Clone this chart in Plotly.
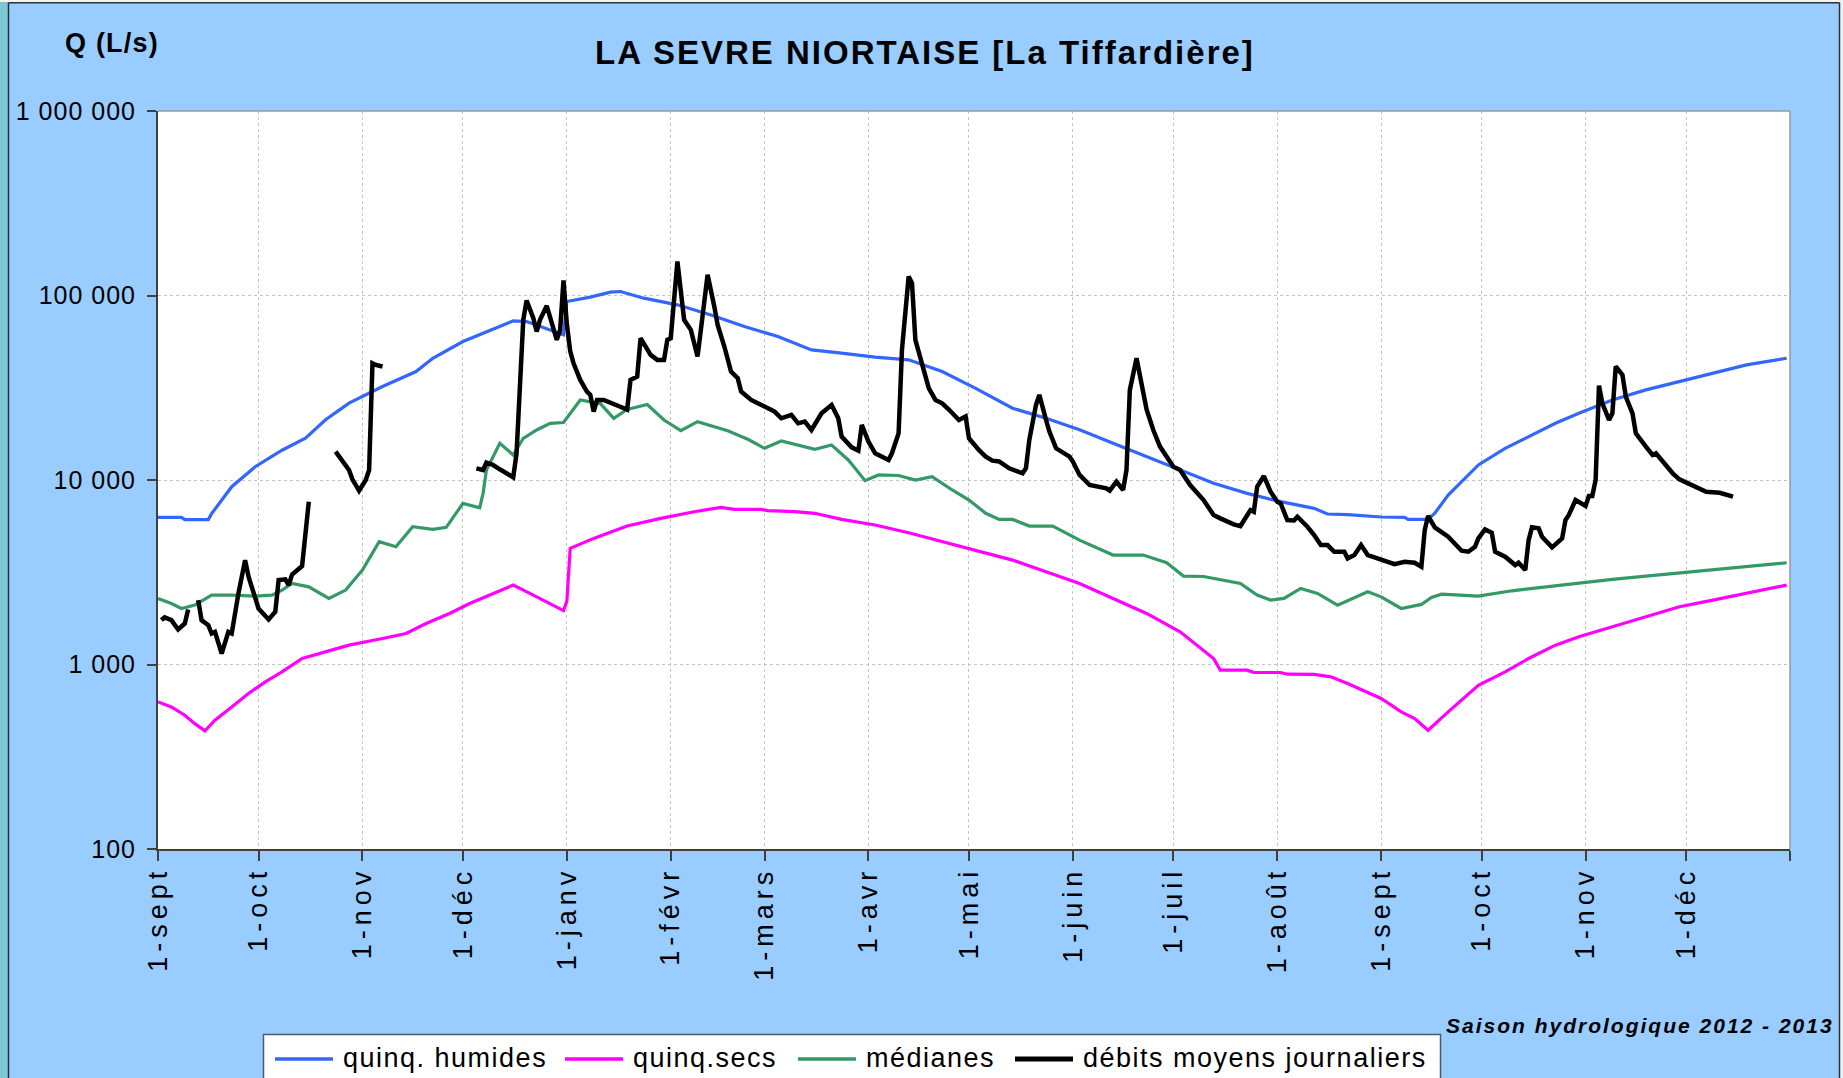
import pandas as pd
import plotly.graph_objects as go

# ---------------- data (day offsets from 1 Sept 2012, flow in L/s) ----------------
START = "2012-09-01"

HUM_DAYS = [0, 7, 8, 15, 16, 22, 29, 37, 44, 50, 57, 67, 77, 82, 91, 97, 106, 110, 121, 122,
            129, 135, 138, 145, 155, 165, 175, 185, 195, 204, 214, 224, 234, 244, 255, 265,
            275, 285, 295, 305, 315, 325, 335, 345, 349, 355, 365, 372, 373, 379, 381, 385,
            390, 394, 402, 409, 417, 424, 434, 444, 454, 464, 474, 486]
HUM_VALS = [6270, 6270, 6100, 6100, 6570, 9200, 11800, 14500, 16850, 21200, 26100, 32100, 38700,
            45700, 56300, 62500, 72900, 72200, 61200, 92800, 98000, 104300, 105100, 96700, 89000,
            78500, 67900, 59900, 50700, 48700, 46300, 44800, 38700, 31400, 24500, 21600, 18700,
            15800, 13400, 11300, 9590, 8465, 7630, 7020, 6540, 6490, 6300, 6270, 6115, 6115, 6600,
            8290, 10210, 12060, 14850, 17180, 20290, 22990, 27160, 30780, 34170, 37910, 42060, 45710]

SEC_DAYS = [0, 4, 8, 11, 14, 17, 22, 27, 32, 37, 43, 50, 57, 67, 74, 80, 87, 93, 100, 106, 112,
            117, 121, 122, 123, 130, 140, 150, 160, 168, 172, 180, 182, 190, 196, 204, 214, 224,
            234, 244, 255, 265, 275, 285, 295, 305, 310, 315, 317, 325, 327, 335, 337, 345, 350,
            355, 365, 371, 375, 379, 385, 390, 394, 402, 409, 417, 424, 434, 444, 454, 464, 474, 486]
SEC_VALS = [627, 589, 531, 478, 437, 499, 589, 696, 805, 912, 1078, 1171, 1273, 1383, 1473, 1669,
            1891, 2142, 2428, 2694, 2377, 2142, 1960, 2200, 4259, 4826, 5628, 6195, 6733, 7107,
            6933, 6933, 6820, 6733, 6600, 6115, 5700, 5180, 4629, 4172, 3681, 3183, 2750, 2280,
            1891, 1503, 1273, 1078, 932, 932, 905, 905, 886, 884, 857, 789, 654, 554, 509, 440,
            554, 668, 772, 912, 1078, 1273, 1413, 1601, 1814, 2056, 2234, 2428, 2694]

MED_DAYS = [0, 4, 7, 9, 11, 16, 22, 29, 34, 37, 40, 45, 51, 56, 61, 66, 71, 76, 82, 86, 91, 96, 97,
            98, 102, 106, 109, 113, 117, 121, 123, 126, 132, 136, 140, 146, 151, 156, 161, 170,
            176, 181, 186, 196, 201, 206, 211, 215, 221, 226, 231, 237, 242, 245, 247, 251, 255,
            260, 267, 275, 285, 294, 301, 306, 312, 323, 328, 332, 336, 341, 346, 352, 356, 361,
            365, 371, 377, 380, 383, 389, 394, 404, 414, 424, 434, 444, 454, 464, 474, 486]
MED_VALS = [2280, 2142, 2012, 2060, 2099, 2377, 2377, 2348, 2377, 2531, 2750, 2637, 2280, 2531,
            3250, 4629, 4349, 5581, 5400, 5535, 7469, 7079, 8465, 11330, 15810, 13660, 16830,
            18670, 20290, 20500, 22990, 27160, 25960, 21600, 24100, 25640, 21150, 18510, 20720,
            18510, 16620, 14850, 16280, 14670, 15490, 12840, 9920, 10650, 10580, 10000, 10420,
            8830, 7790, 7020, 6600, 6115, 6115, 5628, 5628, 4724, 3918, 3918, 3560, 3014, 2998,
            2750, 2377, 2234, 2280, 2584, 2428, 2099, 2255, 2478, 2326, 2012, 2116, 2310, 2407,
            2377, 2348, 2509, 2637, 2773, 2891, 3014, 3143, 3250, 3387, 3560]

DEB_DAYS = [1, 2, 4, 6, 8, 9, 10, 12, 13, 15, 16, 17, 19, 21, 22, 24, 26, 27, 30, 33, 35, 36, 38,
            39, 40, 43, 44, 45, 49,
            53, 55, 57, 58, 60, 62, 63, 64, 65, 67, 80,
            95, 97, 98, 100, 102, 104, 106, 107, 108, 109, 110, 112, 113, 114, 116, 117, 119, 120,
            121, 122, 123, 124, 126, 128, 129, 130, 131, 133, 140, 141, 143, 144, 147, 149, 151,
            152, 153, 155, 157, 159, 161, 162, 164, 166, 167, 169, 171, 173, 174, 177, 180, 184,
            186, 189, 191, 193, 195, 198, 201, 203, 204, 207, 209, 210, 212, 214, 218, 219, 221,
            222, 224, 225, 226, 228, 230, 232, 234, 236, 239, 241, 242, 245, 247, 249, 251, 254,
            258, 259, 260, 262, 263, 265, 266, 268, 272, 273, 275, 278, 281, 283, 284, 286, 288,
            289, 290, 292, 295, 297, 299, 303, 305, 308, 312, 315, 317, 321, 323, 326, 327, 328,
            330, 332, 334, 335, 337, 339, 340, 343, 345, 347, 349, 351, 354, 355, 357, 359, 361,
            365, 369, 372, 375, 377, 378, 379, 381, 385, 389, 391, 393, 394, 396, 398, 399, 402,
            405, 406, 408, 409, 410, 412, 413, 416, 419, 420, 421, 423, 426, 427, 428, 429, 430,
            431, 433, 434, 435, 437, 438, 440, 441, 444, 446, 447, 449, 452, 454, 458, 462, 466, 470]
DEB_VALS = [1740, 1800, 1740, 1548, 1669, 1988, None, 2234, 1740, 1635, 1473, 1503, 1147, 1503,
            1473, 2428, 3681, 2998, 2012, 1754, 1931, 2867, 2893, 2694, 3076, 3416, 5137, 7630, None,
            14250, 12580, 11330, 10080, 8750, 10000, 11330, 42940, 42060, 41200, None,
            11570, 11330, 12420, 12060, 11430, 10870, 10340, 13950, 30780, 73800, 93950, 75350,
            63760, 73800, 87900, 76920, 57500, 65000, 120600, 70000, 50000, 42940, 34870, 30150,
            28920, 23490, 27160, 27160, 24100, 34870, 36370, 58700, 47650, 44770, 44770, 57500,
            58700, 152900, 73800, 65150, 46700, 65150, 129500, 87200, 69340, 52900, 38700, 35600,
            30150, 27160, 25520, 23490, 21600, 22530, 20290, 20720, 18670, 22990, 25520, 21600,
            17180, 15030, 14420, 19880, 16170, 13950, 12840, 13950, 17910, 50720, 126800, 116650,
            57500, 42060, 31440, 27160, 26060, 24100, 21150, 22100, 16830, 14500, 13380, 12730,
            12600, 11570, 10870, 11570, 16480, 25520, 28920, 21150, 18290, 14850, 13380, 12580,
            10650, 9395, 9200, 9010, 8750, 9795, 8830, 11330, 30780, 45710, 24100, 18670, 15170,
            11810, 11330, 9395, 7790, 6460, 6195, 5745, 5628, 6870, 6730, 9200, 10510, 8640, 7630,
            7470, 6070, 6030, 6325, 5580, 5030, 4440, 4440, 4085, 4085, 3760, 3918, 4440, 3918,
            3713, 3500, 3600, 3560, 3387, 5355, 6380, 5535, 4928, 4136, 4085, 4349, 4826, 5400,
            5180, 4085, 3840, 3458, 3560, 3250, 4724, 5535, 5466, 4928, 4313, 4826, 6070, 6460,
            7790, 7230, 8190, 8190, 10000, 32500, 26060, 21150, 22990, 41210, 37150, 28330, 22990,
            17910, 15170, 13660, 13950, 12580, 10870, 10080, 9395, 8640, 8530, 8120]

MONTH_TICKS = ["2012-09-01", "2012-10-01", "2012-11-01", "2012-12-01", "2013-01-01", "2013-02-01",
               "2013-03-01", "2013-04-01", "2013-05-01", "2013-06-01", "2013-07-01", "2013-08-01",
               "2013-09-01", "2013-10-01", "2013-11-01", "2013-12-01", "2014-01-01"]
MONTH_LABELS = ["1-sept", "1-oct", "1-nov", "1-déc", "1-janv", "1-févr", "1-mars", "1-avr",
                "1-mai", "1-juin", "1-juil", "1-août", "1-sept", "1-oct", "1-nov", "1-déc", ""]
Y_TICKS = [100, 1000, 10000, 100000, 1000000]
Y_LABELS = ["100", "1 000", "10 000", "100 000", "1 000 000"]

SERIES_NAMES = ["quinq. humides", "quinq.secs", "médianes", "débits moyens journaliers"]
TITLE = "LA SEVRE NIORTAISE [La Tiffardière]"
Y_TITLE = "Q (L/s)"
SEASON = "Saison hydrologique 2012 - 2013"

# ---------------- layout constants (pixels) ----------------
W, H = 1843, 1078
L, R, T, B = 158, 1790, 111, 849
FONT = "Liberation Sans, Arial, sans-serif"
BLUE, MAG, GREEN, BLACK = "#3366FF", "#FF00FF", "#339966", "#000000"
PAPER = "#99CCFF"


def px(x):
    return (x - L) / (R - L)


def py(y):
    return (B - y) / (B - T)


def to_dates(days):
    return pd.Timestamp(START) + pd.to_timedelta(days, unit="D")


def sp(text, s):
    """letter-spaced text, without trailing spacing after the last glyph"""
    if not text:
        return text
    return f'<span style="letter-spacing:{s}px">{text[:-1]}</span>{text[-1]}'


fig = go.Figure()
for days, vals, col, wd, name in [
    (HUM_DAYS, HUM_VALS, BLUE, 3.2, SERIES_NAMES[0]),
    (SEC_DAYS, SEC_VALS, MAG, 3.2, SERIES_NAMES[1]),
    (MED_DAYS, MED_VALS, GREEN, 3.2, SERIES_NAMES[2]),
    (DEB_DAYS, DEB_VALS, BLACK, 4.5, SERIES_NAMES[3]),
]:
    fig.add_trace(go.Scatter(x=to_dates(days), y=vals, mode="lines", name=name,
                             line=dict(color=col, width=wd), connectgaps=False,
                             showlegend=False, hoverinfo="skip"))

shapes = []
# plot frame (top / right in grey)
shapes.append(dict(type="line", xref="paper", yref="paper", x0=0, x1=1, y0=1, y1=1,
                   line=dict(color="#9A9A9A", width=1.5), layer="above"))
shapes.append(dict(type="line", xref="paper", yref="paper", x0=1, x1=1, y0=0, y1=1,
                   line=dict(color="#9A9A9A", width=1.5), layer="above"))
# window surroundings
shapes.append(dict(type="rect", xref="paper", yref="paper", x0=px(0), x1=px(8), y0=py(H + 5), y1=py(-5),
                   fillcolor="#7CC8D4", line=dict(width=0), layer="above"))
shapes.append(dict(type="rect", xref="paper", yref="paper", x0=px(0), x1=px(W + 5), y0=py(2), y1=py(-5),
                   fillcolor="#F4F4F4", line=dict(width=0), layer="above"))
shapes.append(dict(type="rect", xref="paper", yref="paper", x0=px(1840), x1=px(W + 5), y0=py(H + 5), y1=py(-5),
                   fillcolor="#E8F4F8", line=dict(width=0), layer="above"))
shapes.append(dict(type="line", xref="paper", yref="paper", x0=px(8.5), x1=px(1839.5), y0=py(2.8), y1=py(2.8),
                   line=dict(color="#303030", width=1.5), layer="above"))
shapes.append(dict(type="line", xref="paper", yref="paper", x0=px(8.5), x1=px(8.5), y0=py(2.8), y1=py(H + 5),
                   line=dict(color="#303030", width=1.5), layer="above"))
shapes.append(dict(type="line", xref="paper", yref="paper", x0=px(1839.5), x1=px(1839.5), y0=py(2.8), y1=py(H + 5),
                   line=dict(color="#303030", width=1.5), layer="above"))
# legend box
shapes.append(dict(type="rect", xref="paper", yref="paper", x0=px(263.5), x1=px(1440.5),
                   y0=py(1095), y1=py(1034.5), fillcolor="white",
                   line=dict(color="#505A66", width=1.5), layer="above"))

annotations = []
legend_items = [(275, 333, 342, BLUE, 3.5, SERIES_NAMES[0]),
                (565, 623, 632, MAG, 3.5, SERIES_NAMES[1]),
                (798, 856, 865, GREEN, 3.5, SERIES_NAMES[2]),
                (1015, 1073, 1082, BLACK, 5, SERIES_NAMES[3])]
for x0, x1, xt, col, wd, name in legend_items:
    shapes.append(dict(type="line", xref="paper", yref="paper", x0=px(x0), x1=px(x1),
                       y0=py(1059), y1=py(1059), line=dict(color=col, width=wd), layer="above"))
    annotations.append(dict(xref="paper", yref="paper", x=px(xt), y=py(1058), xanchor="left",
                            yanchor="middle", showarrow=False, text=sp(name, 1.5),
                            font=dict(family=FONT, size=27, color="black"), borderpad=0))

annotations.append(dict(xref="paper", yref="paper", x=px(924), y=py(53), xanchor="center",
                        yanchor="middle", showarrow=False, text="<b>" + sp(TITLE, 2) + "</b>",
                        font=dict(family=FONT, size=33, color="black")))
annotations.append(dict(xref="paper", yref="paper", x=px(63), y=py(43), xanchor="left",
                        yanchor="middle", showarrow=False, text="<b>" + sp(Y_TITLE, 1.2) + "</b>",
                        font=dict(family=FONT, size=27, color="black")))
annotations.append(dict(xref="paper", yref="paper", x=px(1834), y=py(1025), xanchor="right",
                        yanchor="middle", showarrow=False, text="<b><i>" + sp(SEASON, 2) + "</i></b>",
                        font=dict(family=FONT, size=21, color="black")))

fig.update_layout(
    width=W, height=H,
    margin=dict(l=L, r=W - R, t=T, b=H - B, pad=0),
    paper_bgcolor=PAPER, plot_bgcolor="white",
    showlegend=False,
    shapes=shapes, annotations=annotations,
    xaxis=dict(type="date", range=[MONTH_TICKS[0], MONTH_TICKS[-1]], tickmode="array",
               tickvals=MONTH_TICKS, ticktext=[sp(t, 5) for t in MONTH_LABELS], tickangle=-90,
               ticks="outside", ticklen=10, tickwidth=1.5, tickcolor="#404040",
               showline=True, linecolor="#404040", linewidth=2,
               showgrid=True, gridcolor="#C4C4C4", griddash="dot", gridwidth=1,
               zeroline=False, automargin=False,
               tickfont=dict(family=FONT, size=27, color="black")),
    yaxis=dict(type="log", range=[2, 6], tickmode="array", tickvals=Y_TICKS,
               ticktext=[sp(t, 1) for t in Y_LABELS],
               ticks="outside", ticklen=9, tickwidth=1.5, tickcolor="#404040",
               showline=True, linecolor="#404040", linewidth=2,
               showgrid=True, gridcolor="#C4C4C4", griddash="dot", gridwidth=1,
               zeroline=False, automargin=False, ticklabelstandoff=7,
               tickfont=dict(family=FONT, size=25, color="black")),
)

fig.write_html("out.html", config={"displayModeBar": False},
               post_script="document.body.style.margin='0';document.body.style.overflow='hidden';")
